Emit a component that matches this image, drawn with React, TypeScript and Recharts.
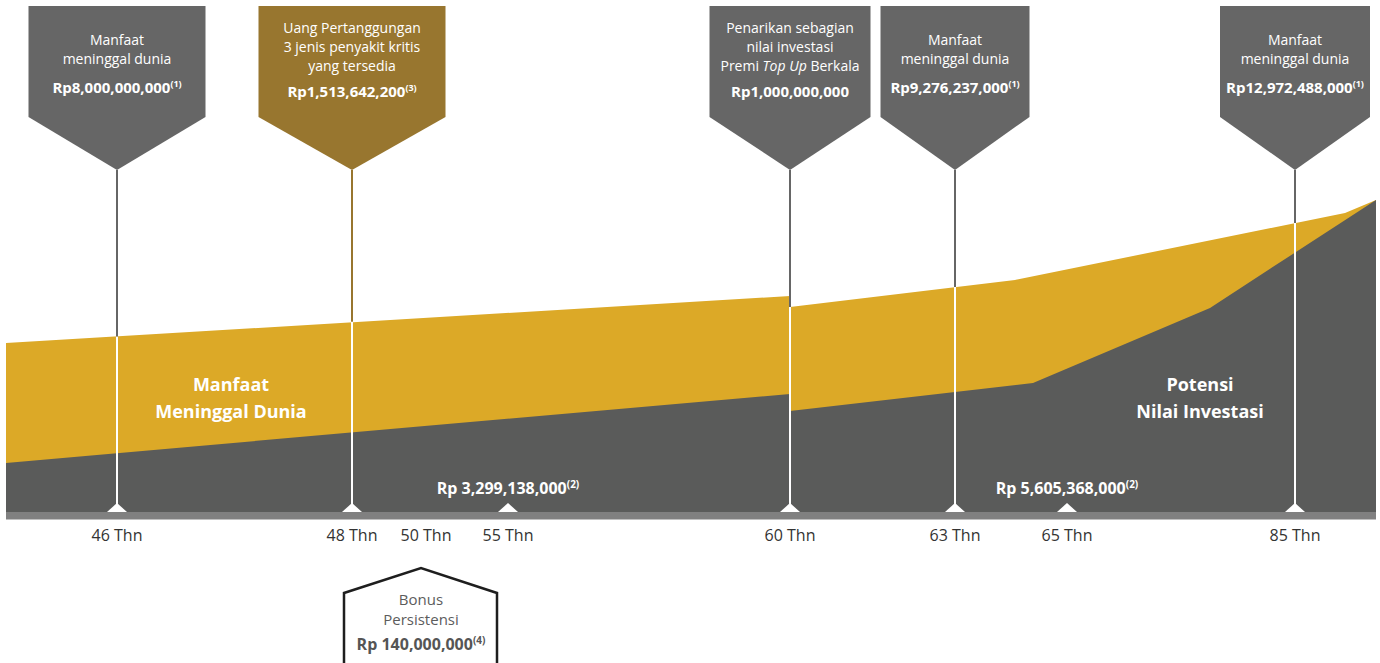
import React from "react";
import {
  ComposedChart,
  Area,
  XAxis,
  YAxis,
  ReferenceLine,
  ReferenceDot,
  ReferenceArea,
} from "recharts";

// timeline position of each point (0..1370) and the drawn value (Rp miliar, drawing scale)
const benefitT = [0, 784, 784, 1009, 1339, 1370];
const benefitValue = [7.26, 9.28, 8.81, 9.97, 12.85, 13.41];
const investT = [0, 784, 784, 1027, 1204, 1370];
const investValue = [2.11, 5.07, 4.34, 5.54, 8.77, 13.41];

// axis ticks
const tickT = [111, 346, 420, 502, 784, 949, 1061, 1289];
const tickLabels = ["46 Thn", "48 Thn", "50 Thn", "55 Thn", "60 Thn", "63 Thn", "65 Thn", "85 Thn"];
const triangleT = [111, 346, 502, 784, 949, 1061, 1289];

// callouts on top
const markerT = [111, 346, 784, 949, 1289];
const markerTop = [7.54, 8.17, 8.81, 9.67, 12.42];
const calloutLines = [
  ["Manfaat", "meninggal dunia"],
  ["Uang Pertanggungan", "3 jenis penyakit kritis", "yang tersedia"],
  ["Penarikan sebagian", "nilai investasi", "Premi Top Up Berkala"],
  ["Manfaat", "meninggal dunia"],
  ["Manfaat", "meninggal dunia"],
];
const calloutAmounts = [
  "Rp8,000,000,000",
  "Rp1,513,642,200",
  "Rp1,000,000,000",
  "Rp9,276,237,000",
  "Rp12,972,488,000",
];
const calloutNotes = ["(1)", "(3)", "", "(1)", "(1)"];
const CALLOUT_TIP = 14.7;

// investment values shown at the baseline
const fundT = [502, 1061];
const fundAmounts = ["Rp 3,299,138,000", "Rp 5,605,368,000"];

const bonusT = 420;
const bonusLines = ["Bonus", "Persistensi"];
const bonusAmount = "Rp 140,000,000";

const GOLD = "#dca927";
const DARK = "#5a5b5a";
const GREY = "#666666";
const BROWN = "#98762f";
const FONT = "'Open Sans', sans-serif";

const calloutWidth = [177, 187, 161, 149, 150];
const calloutFill = [GREY, BROWN, GREY, GREY, GREY];

type Row = { t: number; benefit?: number; invest?: number };

const rows: Row[] = [];
{
  let i = 0;
  let j = 0;
  while (i < benefitT.length || j < investT.length) {
    const bt = i < benefitT.length ? benefitT[i] : Infinity;
    const it = j < investT.length ? investT[j] : Infinity;
    if (bt === it) {
      rows.push({ t: bt, benefit: benefitValue[i], invest: investValue[j] });
      i++;
      j++;
    } else if (bt < it) {
      rows.push({ t: bt, benefit: benefitValue[i] });
      i++;
    } else {
      rows.push({ t: it, invest: investValue[j] });
      j++;
    }
  }
}

function LineText({ text }: { text: string }) {
  if (text.includes("Top Up")) {
    const [a, b] = text.split("Top Up");
    return (
      <>
        {a}
        <tspan fontStyle="italic">Top Up</tspan>
        {b}
      </>
    );
  }
  return <>{text}</>;
}

function Callout(props: any) {
  const { cx, cy, index } = props;
  const half = calloutWidth[index] / 2;
  const top = cy - 164;
  const shoulder = cy - 53;
  const lines = calloutLines[index];
  const first = lines.length === 3 ? cy - 137 : cy - 125;
  const amountY = lines.length === 3 ? cy - 73 : cy - 77;
  return (
    <g fontFamily={FONT}>
      <polygon
        points={`${cx - half},${top} ${cx + half},${top} ${cx + half},${shoulder} ${cx},${cy} ${cx - half},${shoulder}`}
        fill={calloutFill[index]}
      />
      {lines.map((l, k) => (
        <text key={k} x={cx} y={first + k * 19} textAnchor="middle" fill="#fff" fontSize={14}>
          <LineText text={l} />
        </text>
      ))}
      <text x={cx} y={amountY} textAnchor="middle" fill="#fff" fontSize={15} fontWeight={700}>
        {calloutAmounts[index]}
        {calloutNotes[index] && (
          <tspan fontSize={9} dy={-6}>
            {calloutNotes[index]}
          </tspan>
        )}
      </text>
    </g>
  );
}

function Triangle(props: any) {
  const { cx, cy } = props;
  return <polygon points={`${cx - 10},${cy} ${cx + 10},${cy} ${cx},${cy - 9}`} fill="#fff" />;
}

function FundLabel(props: any) {
  const { cx, cy, index } = props;
  return (
    <text x={cx} y={cy - 18} textAnchor="middle" fill="#fff" fontFamily={FONT} fontSize={16} fontWeight={700}>
      {fundAmounts[index]}
      <tspan fontSize={10} dy={-6}>
        (2)
      </tspan>
    </text>
  );
}

function Bonus(props: any) {
  const { cx, cy } = props;
  const x = cx - 5;
  return (
    <g fontFamily={FONT}>
      <polyline
        points={`${x - 77},${cy + 160} ${x - 77},${cy + 81} ${x},${cy + 56} ${x + 76},${cy + 81} ${x + 76},${cy + 160}`}
        fill="none"
        stroke="#1e1e1e"
        strokeWidth={2.5}
      />
      {bonusLines.map((l, k) => (
        <text key={k} x={x} y={cy + 93 + k * 20} textAnchor="middle" fill="#5c5c5c" fontSize={15}>
          {l}
        </text>
      ))}
      <text x={x} y={cy + 138} textAnchor="middle" fill="#555" fontSize={16} fontWeight={700}>
        {bonusAmount}
        <tspan fontSize={10} dy={-6}>
          (4)
        </tspan>
      </text>
    </g>
  );
}

function AreaTitle(props: any) {
  const { cx, cy, lines } = props;
  return (
    <g fontFamily={FONT} fontSize={18} fontWeight={700} fill="#fff">
      {lines.map((l: string, k: number) => (
        <text key={k} x={cx} y={cy - 7 + k * 27} textAnchor="middle">
          {l}
        </text>
      ))}
    </g>
  );
}

function AgeTick(props: any) {
  const { x, y, payload } = props;
  const idx = tickT.indexOf(payload.value);
  return (
    <text x={x} y={y + 21} textAnchor="middle" fill="#333" fontFamily={FONT} fontSize={16}>
      {tickLabels[idx]}
    </text>
  );
}

export default function App() {
  return (
    <div style={{ position: "absolute", left: 0, top: 0, width: 1380, height: 663, background: "#fff" }}>
      <ComposedChart width={1380} height={663} data={rows} margin={{ top: 0, right: 4, left: 6, bottom: 0 }}>
        <XAxis
          dataKey="t"
          type="number"
          domain={[0, 1370]}
          ticks={tickT}
          tick={<AgeTick />}
          axisLine={false}
          tickLine={false}
          height={151}
          interval={0}
        />
        <YAxis type="number" domain={[0, 22]} hide />
        <Area
          type="linear"
          dataKey="benefit"
          fill={GOLD}
          fillOpacity={1}
          stroke="none"
          connectNulls
          isAnimationActive={false}
        />
        <Area
          type="linear"
          dataKey="invest"
          fill={DARK}
          fillOpacity={1}
          stroke="none"
          connectNulls
          isAnimationActive={false}
        />
        <ReferenceArea x1={0} x2={1370} y1={-0.32} y2={0} fill="#808080" fillOpacity={1} stroke="none" ifOverflow="visible" />
        {markerT.map((t, i) => (
          <ReferenceLine
            key={`w${i}`}
            segment={[{ x: t, y: 0 }, { x: t, y: markerTop[i] }]}
            stroke="#fff"
            strokeWidth={2}
            ifOverflow="visible"
          />
        ))}
        {markerT.map((t, i) => (
          <ReferenceLine
            key={`g${i}`}
            segment={[{ x: t, y: markerTop[i] }, { x: t, y: CALLOUT_TIP }]}
            stroke={i === 1 ? BROWN : GREY}
            strokeWidth={2}
            ifOverflow="visible"
          />
        ))}
        {triangleT.map((t, i) => (
          <ReferenceDot key={`tr${i}`} x={t} y={0} ifOverflow="visible" shape={(p: any) => <Triangle {...p} />} />
        ))}
        {markerT.map((t, i) => (
          <ReferenceDot
            key={`c${i}`}
            x={t}
            y={CALLOUT_TIP}
            ifOverflow="visible"
            shape={(p: any) => <Callout {...p} index={i} />}
          />
        ))}
        {fundT.map((t, i) => (
          <ReferenceDot key={`f${i}`} x={t} y={0} ifOverflow="visible" shape={(p: any) => <FundLabel {...p} index={i} />} />
        ))}
        <ReferenceDot x={bonusT} y={0} ifOverflow="visible" shape={(p: any) => <Bonus {...p} />} />
        <ReferenceDot
          x={225}
          y={4.9}
          ifOverflow="visible"
          shape={(p: any) => <AreaTitle {...p} lines={["Manfaat", "Meninggal Dunia"]} />}
        />
        <ReferenceDot
          x={1194}
          y={4.9}
          ifOverflow="visible"
          shape={(p: any) => <AreaTitle {...p} lines={["Potensi", "Nilai Investasi"]} />}
        />
      </ComposedChart>
    </div>
  );
}
